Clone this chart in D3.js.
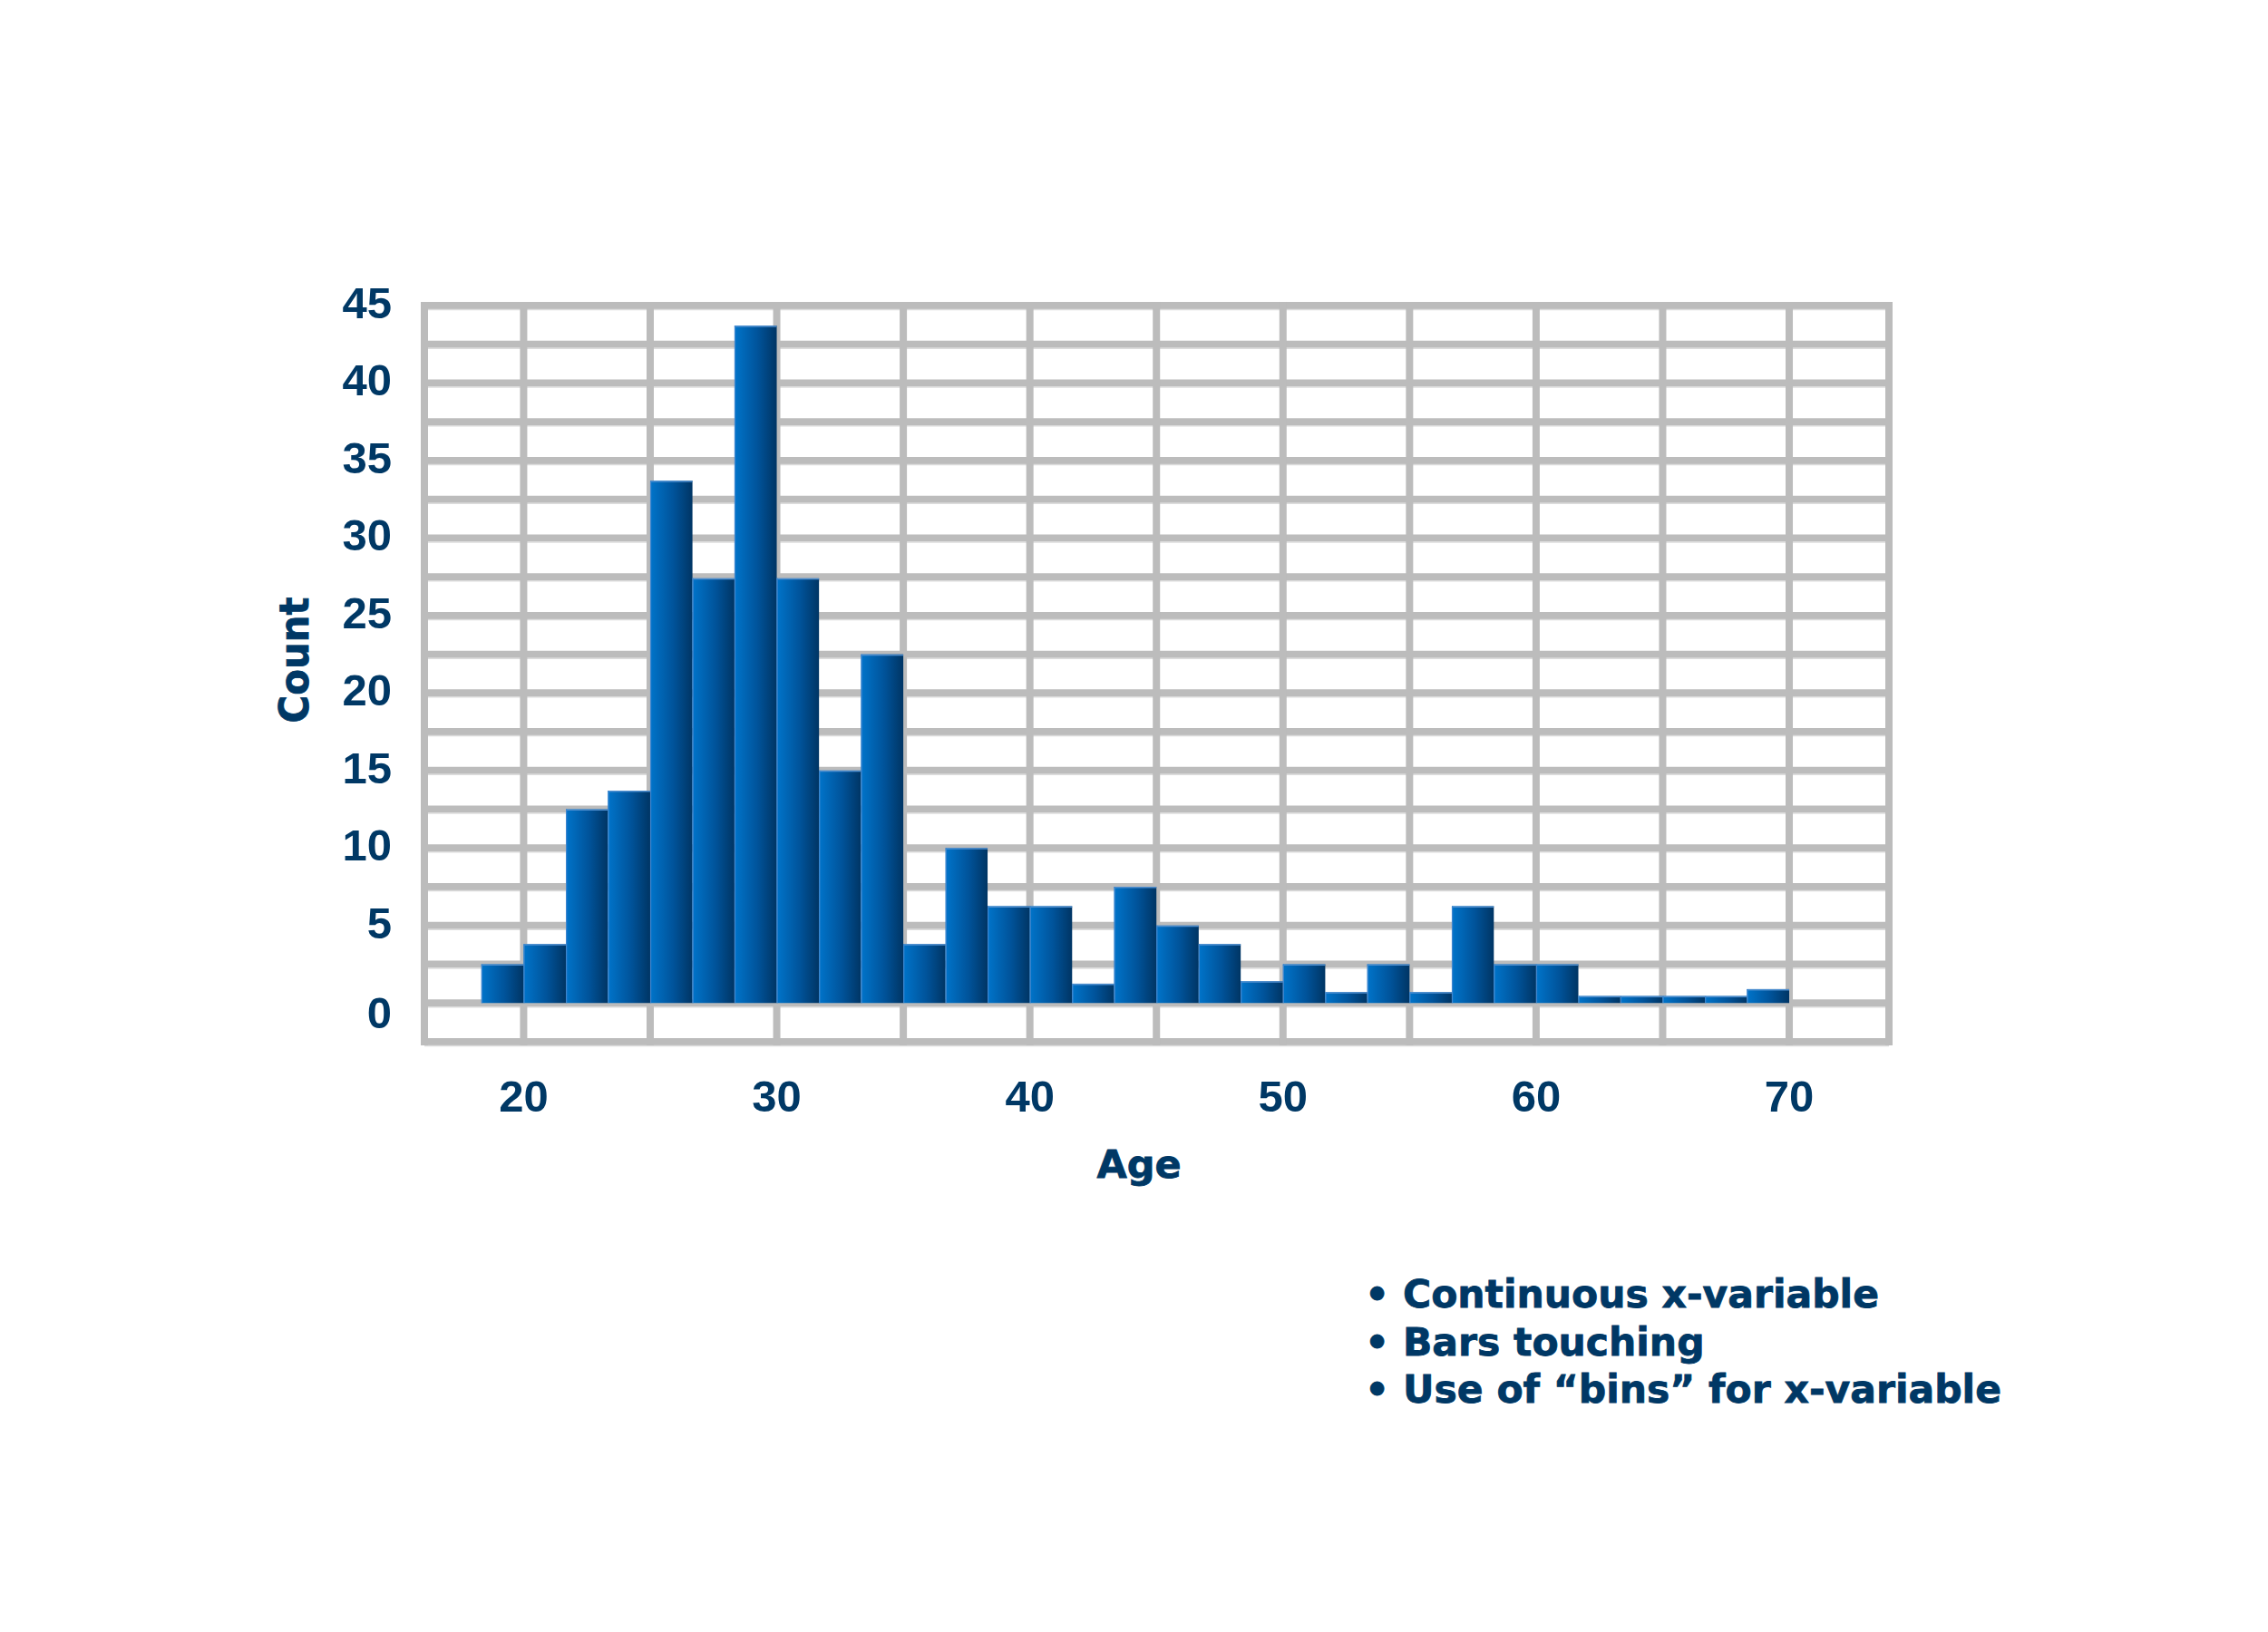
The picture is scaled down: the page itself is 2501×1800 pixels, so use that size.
<!DOCTYPE html>
<html>
<head>
<meta charset="utf-8">
<script src="https://cdn.jsdelivr.net/npm/d3@7"></script>
<style>
  body { margin: 0; background: #fff; }
  text { fill: #003865; }
</style>
</head>
<body>
<svg id="chart"></svg>
<script>
// bin edges (age) and counts per bin
var binEdges = [18.33, 20, 21.67, 23.33, 25, 26.67, 28.33, 30, 31.67, 33.33, 35,
                36.67, 38.33, 40, 41.67, 43.33, 45, 46.67, 48.33, 50, 51.67,
                53.33, 55, 56.67, 58.33, 60, 61.67, 63.33, 65, 66.67, 68.33, 70];
var counts = [2.5, 3.8, 12.5, 13.7, 33.7, 27.4, 43.7, 27.4, 15, 22.5, 3.8,
              10, 6.25, 6.25, 1.25, 7.5, 5, 3.8, 1.4, 2.5, 0.7,
              2.5, 0.7, 6.25, 2.5, 2.5, 0.45, 0.45, 0.45, 0.45, 0.9];
var xTicks = [20, 30, 40, 50, 60, 70];
var xGrid = [20, 25, 30, 35, 40, 45, 50, 55, 60, 65, 70];
var yTicks = [0, 5, 10, 15, 20, 25, 30, 35, 40, 45];
var yGrid = [-2.5, 0, 2.5, 5, 7.5, 10, 12.5, 15, 17.5, 20, 22.5, 25, 27.5, 30,
             32.5, 35, 37.5, 40, 42.5, 45];
var notes = ["Continuous x-variable", "Bars touching", "Use of \u201cbins\u201d for x-variable"];

var svgWidth = 2501;
var svgHeight = 1800;
var svg = d3.select("#chart")
    .attr("width", svgWidth)
    .attr("height", svgHeight);

var x = d3.scaleLinear().domain([16.08, 73.94]).range([468, 2083]);
var y = d3.scaleLinear().domain([-2.5, 45]).range([1149, 337]);

var grad = svg.append("defs").append("linearGradient")
    .attr("id", "barGrad")
    .attr("x1", "0").attr("x2", "1").attr("y1", "0").attr("y2", "0");
grad.append("stop").attr("offset", "0%").attr("stop-color", "#0074ca");
grad.append("stop").attr("offset", "55%").attr("stop-color", "#00539a");
grad.append("stop").attr("offset", "100%").attr("stop-color", "#003564");

// grid
var grid = svg.append("g");
grid.selectAll(".hg")
    .data(yGrid)
    .enter()
    .append("line")
    .attr("x1", x(16.08)).attr("x2", x(73.94))
    .attr("y1", d => y(d)).attr("y2", d => y(d))
    .attr("stroke", "#bcbcbc").attr("stroke-width", 8);
grid.selectAll(".hl")
    .data(yGrid)
    .enter()
    .append("line")
    .attr("x1", x(16.08)).attr("x2", x(73.94))
    .attr("y1", d => y(d) + 4.5).attr("y2", d => y(d) + 4.5)
    .attr("stroke", "#dcdcdc").attr("stroke-width", 1.5);
grid.selectAll(".vg")
    .data(xGrid.concat([16.08, 73.94]))
    .enter()
    .append("line")
    .attr("x1", d => x(d)).attr("x2", d => x(d))
    .attr("y1", y(45) - 4).attr("y2", y(-2.5) + 4)
    .attr("stroke", "#bcbcbc").attr("stroke-width", 8);

// bars
var bars = svg.append("g");
bars.selectAll("rect")
    .data(counts)
    .enter()
    .append("rect")
    .attr("x", (d, i) => x(binEdges[i]))
    .attr("width", (d, i) => x(binEdges[i + 1]) - x(binEdges[i]))
    .attr("y", d => y(d))
    .attr("height", d => y(0) - y(d))
    .attr("fill", "url(#barGrad)");
bars.selectAll(".top")
    .data(counts)
    .enter()
    .append("line")
    .attr("x1", (d, i) => x(binEdges[i]))
    .attr("x2", (d, i) => x(binEdges[i + 1]))
    .attr("y1", d => y(d) + 0.75).attr("y2", d => y(d) + 0.75)
    .attr("stroke", "#4f8fd0").attr("stroke-width", 1.5);
bars.selectAll(".edge")
    .data(counts)
    .enter()
    .append("line")
    .attr("x1", (d, i) => x(binEdges[i]) + 0.6)
    .attr("x2", (d, i) => x(binEdges[i]) + 0.6)
    .attr("y1", d => y(d)).attr("y2", y(0))
    .attr("stroke", "#3f86cf").attr("stroke-width", 1.2);

// y tick labels
svg.append("g").selectAll("text")
    .data(yTicks)
    .enter()
    .append("text")
    .attr("x", 432)
    .attr("y", d => y(d) + (d === 0 ? 10.5 : -3.5) + 17.5)
    .attr("text-anchor", "end")
    .style("font-family", "'Liberation Sans', Arial, sans-serif")
    .style("font-weight", "bold")
    .style("font-size", "49px")
    .text(d => d);

// x tick labels
svg.append("g").selectAll("text")
    .data(xTicks)
    .enter()
    .append("text")
    .attr("x", d => x(d))
    .attr("y", 1226)
    .attr("text-anchor", "middle")
    .style("font-family", "'Liberation Sans', Arial, sans-serif")
    .style("font-weight", "bold")
    .style("font-size", "49px")
    .text(d => d);

// axis titles
svg.append("text")
    .attr("x", 1256).attr("y", 1299)
    .attr("text-anchor", "middle")
    .style("font-family", "'DejaVu Sans', sans-serif")
    .style("font-weight", "bold")
    .style("font-size", "43px")
    .style("stroke", "#003865").style("stroke-width", 0.8)
    .text("Age");

svg.append("text")
    .attr("transform", "translate(340,728) rotate(-90) scale(0.95,1)")
    .attr("text-anchor", "middle")
    .style("font-family", "'DejaVu Sans', sans-serif")
    .style("font-weight", "bold")
    .style("font-size", "44px")
    .style("stroke", "#003865").style("stroke-width", 0.8)
    .text("Count");

// notes
svg.append("g")
    .selectAll("text")
    .data(notes)
    .enter()
    .append("text")
    .attr("x", 1505)
    .attr("y", (d, i) => 1442 + i * 52.5)
    .style("font-family", "'DejaVu Sans', sans-serif")
    .style("font-weight", "bold")
    .style("font-size", "42.5px")
    .style("stroke", "#003865").style("stroke-width", 0.8)
    .text(d => "\u2022 " + d);
</script>
</body>
</html>
